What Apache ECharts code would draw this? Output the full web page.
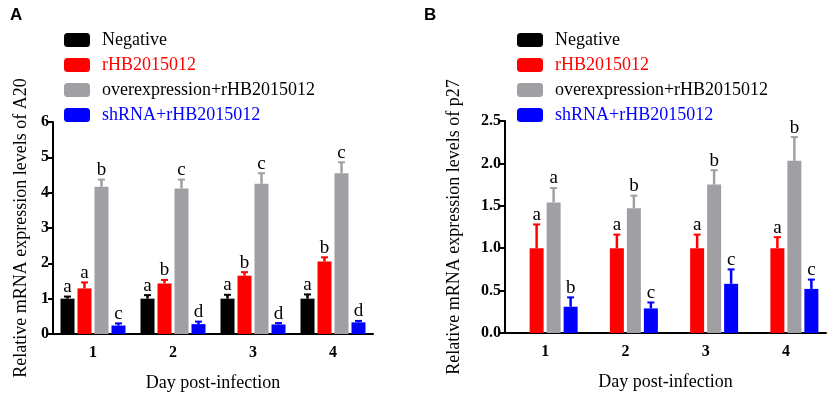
<!DOCTYPE html>
<html>
<head>
<meta charset="utf-8">
<script src="https://cdn.jsdelivr.net/npm/echarts@6/dist/echarts.min.js"></script>
<style>
  html, body { margin: 0; padding: 0; background: #fff; }
  #chart { width: 829px; height: 393px; }
</style>
</head>
<body>
<div id="chart"></div>
<script>
const days = ["1", "2", "3", "4"];
const groups = ["Negative", "rHB2015012", "overexpression+rHB2015012", "shRNA+rHB2015012"];

// panel A: A20
const a20Mean = [
  [1.0, 1.0, 1.0, 1.0],
  [1.29, 1.43, 1.65, 2.05],
  [4.17, 4.12, 4.25, 4.55],
  [0.24, 0.28, 0.27, 0.33]
];
const a20Upper = [
  [1.06, 1.1, 1.11, 1.12],
  [1.46, 1.53, 1.75, 2.17],
  [4.37, 4.37, 4.55, 4.86],
  [0.3, 0.35, 0.31, 0.37]
];
const a20Letters = [
  ["a", "a", "a", "a"],
  ["a", "b", "b", "b"],
  ["b", "c", "c", "c"],
  ["c", "d", "d", "d"]
];

// panel B: p27 (no Negative bars drawn)
const p27Mean = [
  [null, null, null, null],
  [1.0, 1.0, 1.0, 1.0],
  [1.54, 1.47, 1.75, 2.03],
  [0.31, 0.29, 0.58, 0.52]
];
const p27Upper = [
  [null, null, null, null],
  [1.28, 1.16, 1.16, 1.13],
  [1.71, 1.62, 1.92, 2.31],
  [0.42, 0.36, 0.75, 0.63]
];
const p27Letters = [
  ["", "", "", ""],
  ["a", "a", "a", "a"],
  ["a", "b", "b", "b"],
  ["b", "c", "c", "c"]
];

const colors = ["#000000", "#ff0000", "#a0a0a4", "#0000ff"];
const legendText = ["#000000", "#ff0000", "#000000", "#0000ff"];
const serif = "Liberation Serif";
const BAR_W = 14;
const BAR_GAP = 3;

let chart = echarts.init(document.getElementById("chart"));

function axisPair(idx, yMax, yInt, yName, nameGap) {
  let x = {
    type: "category",
    gridIndex: idx,
    data: days,
    name: "Day post-infection",
    nameLocation: "middle",
    nameGap: 40,
    nameTextStyle: { fontFamily: serif, fontSize: 18, color: "#000" },
    axisLine: { lineStyle: { color: "#000", width: 2 } },
    axisTick: { alignWithLabel: true, length: 5, lineStyle: { color: "#000", width: 2 } },
    axisLabel: { fontFamily: serif, fontSize: 16, fontWeight: "bold", color: "#000", margin: 11 }
  };
  let y = {
    type: "value",
    gridIndex: idx,
    min: 0,
    max: yMax,
    interval: yInt,
    name: yName,
    nameLocation: "middle",
    nameGap: nameGap,
    nameTextStyle: { fontFamily: serif, fontSize: 18, color: "#000" },
    splitLine: { show: false },
    axisLine: { show: true, lineStyle: { color: "#000", width: 2 } },
    axisTick: { show: true, length: 5, lineStyle: { color: "#000", width: 2 } },
    axisLabel: {
      fontFamily: serif,
      fontSize: 16,
      fontWeight: "bold",
      color: "#000",
      margin: 4,
      formatter: v => (yInt < 1 ? v.toFixed(1) : String(v))
    }
  };
  return [x, y];
}

function barSeries(idx, means) {
  return groups.map((g, i) => ({
    name: g,
    type: "bar",
    xAxisIndex: idx,
    yAxisIndex: idx,
    barWidth: BAR_W,
    barGap: (BAR_GAP / BAR_W * 100) + "%",
    itemStyle: { color: colors[i] },
    data: means[i]
  }));
}

function errSeries(idx, means, uppers, letters) {
  return groups.map((g, i) => ({
    name: g,
    type: "custom",
    xAxisIndex: idx,
    yAxisIndex: idx,
    z: 5,
    silent: true,
    data: means[i].map((m, d) => [d, m, uppers[i][d]]),
    renderItem: function (params, api) {
      let m = api.value(1);
      if (isNaN(m) || m === null) return;
      let off = (i - 1.5) * (BAR_W + BAR_GAP);
      let top = api.coord([api.value(0), m]);
      let up = api.coord([api.value(0), api.value(2)]);
      let cx = top[0] + off;
      return {
        type: "group",
        children: [
          {
            type: "line",
            shape: { x1: cx, y1: top[1], x2: cx, y2: up[1] },
            style: { stroke: colors[i], lineWidth: 2.5 }
          },
          {
            type: "line",
            shape: { x1: cx - 3.5, y1: up[1], x2: cx + 3.5, y2: up[1] },
            style: { stroke: colors[i], lineWidth: 2 }
          },
          {
            type: "text",
            style: {
              x: cx,
              y: up[1],
              text: letters[i][params.dataIndex],
              fontFamily: serif,
              fontSize: 19,
              fill: "#000",
              align: "center",
              verticalAlign: "bottom"
            }
          }
        ]
      };
    }
  }));
}

function legendBlock(left) {
  return {
    orient: "vertical",
    left: left,
    top: 31,
    padding: 0,
    itemWidth: 26,
    itemHeight: 14,
    itemGap: 7,
    icon: "roundRect",
    textStyle: { fontFamily: serif, fontSize: 18, padding: [0, 0, 0, 7] },
    data: groups.map((g, i) => ({ name: g, textStyle: { color: legendText[i] } }))
  };
}

let axA = axisPair(0, 6, 1, "Relative mRNA expression levels of A20", 23);
let axB = axisPair(1, 2.5, 0.5, "Relative mRNA expression levels of p27", 42);

let option = {
  animation: false,
  title: [
    { text: "A", left: 5, top: 2, textStyle: { fontFamily: "Liberation Sans", fontSize: 17, fontWeight: "bold", color: "#000" } },
    { text: "B", left: 419, top: 2, textStyle: { fontFamily: "Liberation Sans", fontSize: 17, fontWeight: "bold", color: "#000" } }
  ],
  legend: [legendBlock(64), legendBlock(517)],
  grid: [
    { left: 53, top: 122, width: 320, height: 212, outerBoundsMode: "none", containLabel: false },
    { left: 505, top: 121, width: 321, height: 212, outerBoundsMode: "none", containLabel: false }
  ],
  xAxis: [axA[0], axB[0]],
  yAxis: [axA[1], axB[1]],
  series: barSeries(0, a20Mean)
    .concat(barSeries(1, p27Mean))
    .concat(errSeries(0, a20Mean, a20Upper, a20Letters))
    .concat(errSeries(1, p27Mean, p27Upper, p27Letters))
};
chart.setOption(option);
</script>
</body>
</html>
